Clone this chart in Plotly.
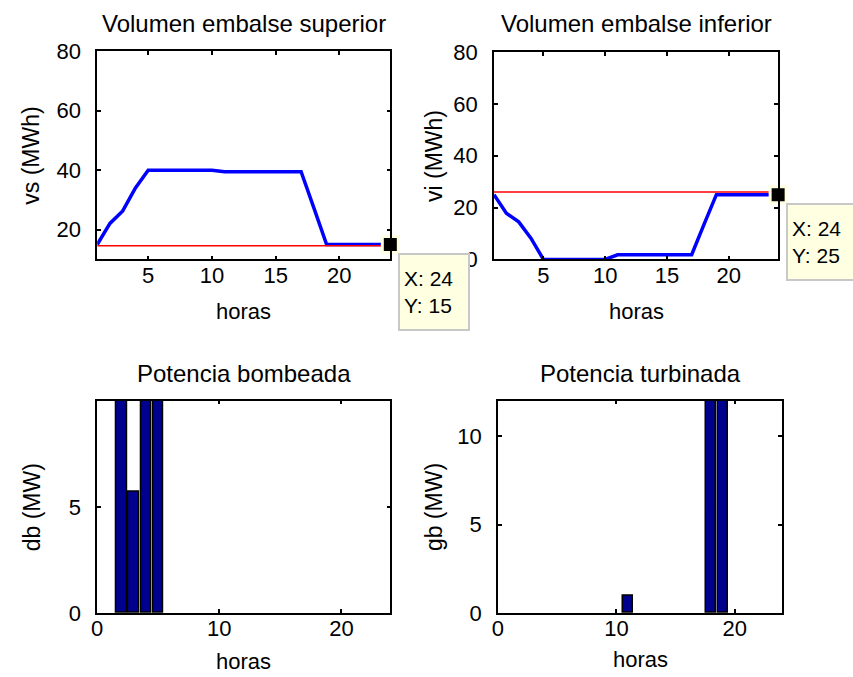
import plotly.graph_objects as go

W, H = 853, 690
FONT = "Liberation Sans"

# Hourly results of the pumped-storage dispatch
horas = list(range(1, 25))
vs = [15, 22.1, 26.3, 34, 40, 40, 40, 40, 40, 40,
      39.5, 39.5, 39.5, 39.5, 39.5, 39.5, 39.5, 27.3, 15, 15,
      15, 15, 15, 15]
vi = [25, 17.8, 14.5, 8.1, 0, 0, 0, 0, 0, 0,
      1.8, 1.8, 1.8, 1.8, 1.8, 1.8, 1.8, 13.5, 25, 25,
      25, 25, 25, 25]
vs_ref = 14.6   # reference level, upper reservoir
vi_ref = 26     # reference level, lower reservoir
db = [0, 10, 5.7, 10, 10, 0, 0, 0, 0, 0,
      0, 0, 0, 0, 0, 0, 0, 0, 0, 0,
      0, 0, 0, 0]
gb = [0, 0, 0, 0, 0, 0, 0, 0, 0, 0,
      1, 0, 0, 0, 0, 0, 0, 12, 12, 0,
      0, 0, 0, 0]

# data tips
tip_vs = (24, 15)
tip_vi = (24, 25)

BLUE = "rgb(0,0,255)"
RED = "rgb(255,0,0)"
NAVY = "rgb(0,0,143)"
CREAM = "rgb(255,255,225)"


# the page places the figure with a small offset and a slight vertical squeeze;
# these convert window pixel positions to paper fractions
def px_x(p):
    return ((p - 2.5) / 0.996) / W


def px_y(p):
    return 1 - ((p - 11) / 0.962) / H


def nonzero(vals):
    # hours without power are left empty instead of drawing flat bars
    return [v if v else None for v in vals]


fig = go.Figure()

tip_marker = dict(symbol="square", size=16, color="black", line=dict(color=CREAM, width=3))

# Volumen embalse superior
fig.add_trace(go.Scatter(x=horas, y=vs, mode="lines", line=dict(color=BLUE, width=3.5),
                         xaxis="x", yaxis="y"))
fig.add_trace(go.Scatter(x=[horas[0], horas[-1]], y=[vs_ref, vs_ref], mode="lines",
                         line=dict(color=RED, width=1.5), xaxis="x", yaxis="y"))
fig.add_trace(go.Scatter(x=[tip_vs[0]], y=[tip_vs[1]], mode="markers", cliponaxis=False,
                         marker=tip_marker, xaxis="x", yaxis="y"))

# Volumen embalse inferior
fig.add_trace(go.Scatter(x=horas, y=vi, mode="lines", line=dict(color=BLUE, width=3.5),
                         xaxis="x2", yaxis="y2"))
fig.add_trace(go.Scatter(x=[horas[0], horas[-1]], y=[vi_ref, vi_ref], mode="lines",
                         line=dict(color=RED, width=1.5), xaxis="x2", yaxis="y2"))
fig.add_trace(go.Scatter(x=[tip_vi[0]], y=[tip_vi[1]], mode="markers", cliponaxis=False,
                         marker=tip_marker, xaxis="x2", yaxis="y2"))

# Potencia bombeada / turbinada
bar_marker = dict(color=NAVY, line=dict(color="black", width=1.5))
fig.add_trace(go.Bar(x=horas, y=nonzero(db), width=0.85, marker=bar_marker,
                     xaxis="x3", yaxis="y3"))
fig.add_trace(go.Bar(x=horas, y=nonzero(gb), width=0.85, marker=bar_marker,
                     xaxis="x4", yaxis="y4"))

axis_style = dict(showline=True, linecolor="black", linewidth=1.5, mirror="ticks",
                  ticks="inside", ticklen=4, tickwidth=1.5, tickcolor="black",
                  showgrid=False, zeroline=False,
                  tickfont=dict(family=FONT, size=22, color="black"))

# panel boxes in window pixels: (left, right, top, bottom)
boxes = {
    1: (94, 388, 50, 258),
    2: (492, 777, 51, 258),
    3: (94, 388, 399, 611),
    4: (496, 781, 399, 611),
}
xranges = {1: [1, 24], 2: [1, 24], 3: [0, 24], 4: [0, 24]}
yranges = {1: [10, 80], 2: [0, 80], 3: [0, 10], 4: [0, 12]}
xticks = {1: [5, 10, 15, 20], 2: [5, 10, 15, 20], 3: [0, 10, 20], 4: [0, 10, 20]}
yticks = {1: [20, 40, 60, 80], 2: [0, 20, 40, 60, 80], 3: [0, 5], 4: [0, 5, 10]}

layout = dict(width=W, height=H, margin=dict(l=0, r=0, t=0, b=0),
              paper_bgcolor="white", plot_bgcolor="white", showlegend=False,
              bargap=0)
for i, (l, r, t, b) in boxes.items():
    sx = "" if i == 1 else str(i)
    layout["xaxis" + sx] = dict(axis_style, domain=[px_x(l), px_x(r)], range=xranges[i],
                                tickvals=xticks[i], anchor="y" + sx, ticklabelstandoff=-5)
    layout["yaxis" + sx] = dict(axis_style, domain=[px_y(b), px_y(t)], range=yranges[i],
                                tickvals=yticks[i], anchor="x" + sx, ticklabelstandoff=10)
fig.update_layout(**layout)

titles = {1: "Volumen embalse superior", 2: "Volumen embalse inferior",
          3: "Potencia bombeada", 4: "Potencia turbinada"}
ylabels = {1: "vs (MWh)", 2: "vi (MWh)", 3: "db (MW)", 4: "gb (MW)"}
title_y = {1: 22, 2: 22, 3: 372, 4: 372}
xlabel_y = {1: 310, 2: 310, 3: 659, 4: 657}
ylabel_x = {1: 28, 2: 432, 3: 28, 4: 432}

ann = []
for i, (l, r, t, b) in boxes.items():
    cx = (l + r) / 2
    ann.append(dict(text=titles[i], x=px_x(cx), y=px_y(title_y[i]), xref="paper", yref="paper",
                    xanchor="center", yanchor="middle", showarrow=False,
                    font=dict(family=FONT, size=24, color="black")))
    ann.append(dict(text="horas", x=px_x(cx), y=px_y(xlabel_y[i]), xref="paper", yref="paper",
                    xanchor="center", yanchor="middle", showarrow=False,
                    font=dict(family=FONT, size=22, color="black")))
    ann.append(dict(text=ylabels[i], x=px_x(ylabel_x[i]), y=px_y((t + b) / 2), xref="paper",
                    yref="paper", xanchor="center", yanchor="middle", textangle=-90,
                    showarrow=False, font=dict(family=FONT, size=23, color="black")))

# data tip boxes
for (tx, ty), (bx, by) in ((tip_vs, (396, 252)), (tip_vi, (785, 202))):
    ann.append(dict(text=f"X: {tx}<br>Y: {ty}", x=px_x(bx), y=px_y(by), xref="paper", yref="paper",
                    xanchor="left", yanchor="top", align="left", showarrow=False,
                    width=60, height=66, valign="middle",
                    bgcolor=CREAM, bordercolor="rgb(200,200,200)", borderwidth=2, borderpad=4,
                    font=dict(family=FONT, size=21, color="black")))
fig.update_layout(annotations=ann)

fig.write_html("out.html")
